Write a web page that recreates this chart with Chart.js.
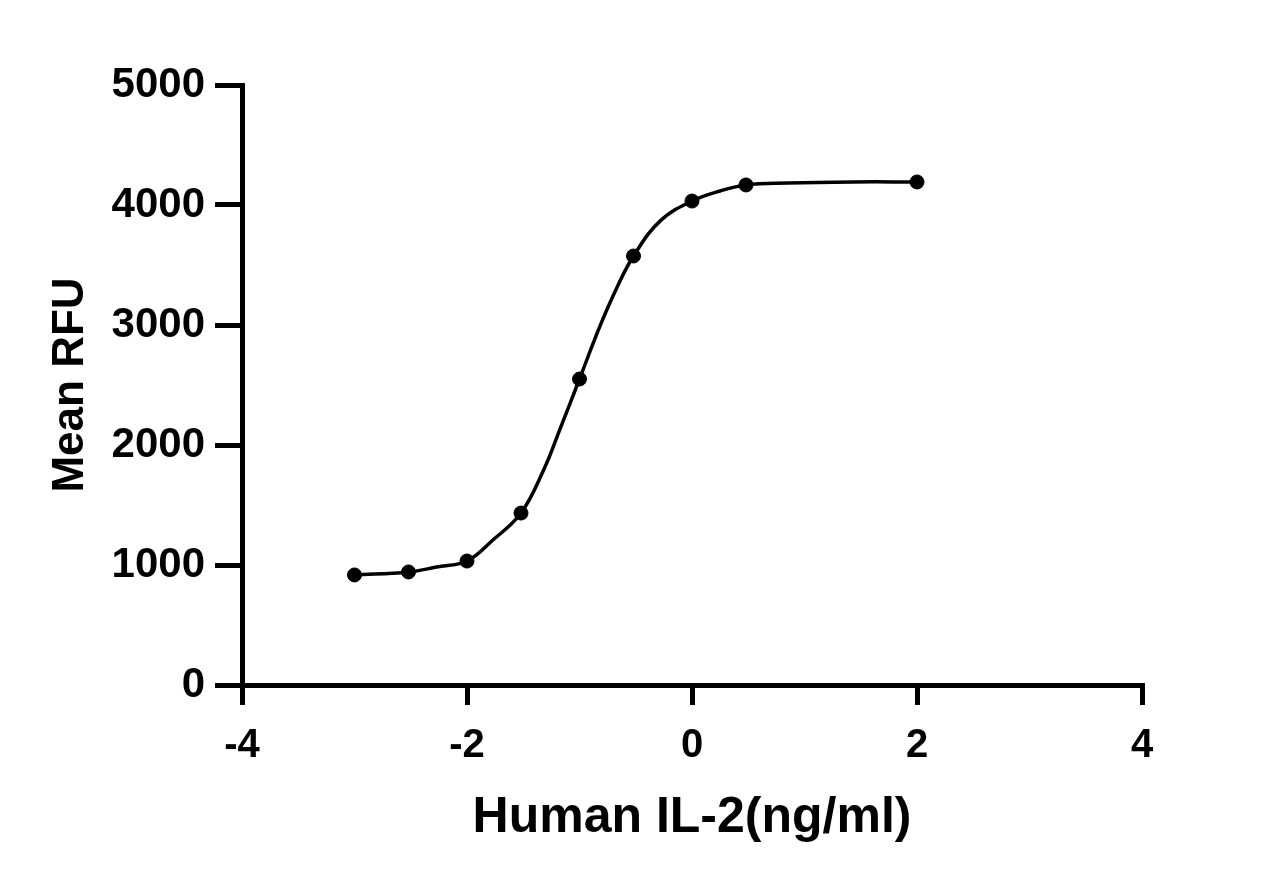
<!DOCTYPE html>
<html>
<head>
<meta charset="utf-8">
<title>Human IL-2 dose response</title>
<script src="https://cdn.jsdelivr.net/npm/chart.js@4/dist/chart.umd.min.js"></script>
<style>
  html, body { margin: 0; padding: 0; background: #fff; }
  #wrap { width: 1284px; height: 888px; }
</style>
</head>
<body>
<div id="wrap"><canvas id="il2-chart" width="1284" height="888"></canvas></div>
<script>
// measured points: log10 concentration (ng/ml) vs mean RFU
const logDose = [-3, -2.52, -2, -1.52, -1, -0.52, 0, 0.48, 2];
const meanRFU = [917, 942, 1033, 1433, 2550, 3575, 4033, 4167, 4192];

// fitted curve
const fitX = [-3, -2.52, -2.27, -2, -1.77, -1.52, -1.32, -1.17, -1, -0.82, -0.67, -0.52, -0.28, 0, 0.25, 0.48, 0.85, 1.43, 2];
const fitY = [917, 942, 983, 1033, 1208, 1433, 1790, 2140, 2550, 2986, 3306, 3575, 3870, 4033, 4117, 4167, 4183, 4192, 4192];

const xTicks = [-4, -2, 0, 2, 4];
const yTicks = [0, 1000, 2000, 3000, 4000, 5000];

const FONT = '"Liberation Sans", Arial, Helvetica, sans-serif';

function toXY(xs, ys) {
    return xs.map((x, i) => ({ x: x, y: ys[i] }));
}

//Draw Graph
window.addEventListener('DOMContentLoaded', () => {
    const ctx = document.getElementById('il2-chart').getContext('2d');
    new Chart(ctx, {
        type: 'scatter',
        data: {
            datasets: [{
                label: 'points',
                data: toXY(logDose, meanRFU),
                backgroundColor: '#000',
                borderColor: '#000',
                pointRadius: 7,
                showLine: false,
                order: 0
            }, {
                label: 'fit',
                data: toXY(fitX, fitY),
                borderColor: '#000',
                borderWidth: 3.5,
                pointRadius: 0,
                showLine: true,
                tension: 0.4,
                order: 1
            }]
        },
        options: {
            responsive: false,
            animation: false,
            layout: { padding: { left: 0, right: 142, top: 85, bottom: 0 } },
            plugins: { legend: { display: false }, tooltip: { enabled: false } },
            scales: {
                x: {
                    type: 'linear',
                    min: -4, max: 4,
                    afterFit: s => { s.height = 203; },
                    afterBuildTicks: s => { s.ticks = xTicks.map(v => ({ value: v })); },
                    border: { color: '#000', width: 5 },
                    grid: { drawOnChartArea: false, drawTicks: true, tickLength: 20, lineWidth: 5, color: '#000' },
                    ticks: {
                        color: '#000', padding: 17,
                        font: { family: FONT, size: 40, weight: 'bold' },
                        callback: v => String(v)
                    },
                    title: {
                        display: true,
                        text: 'Human IL-2(ng/ml)',
                        color: '#000',
                        font: { family: FONT, size: 50, weight: 'bold', lineHeight: 1 },
                        padding: { top: 0, bottom: 45 }
                    }
                },
                y: {
                    type: 'linear',
                    min: 0, max: 5000,
                    afterFit: s => { s.width = 242; },
                    afterBuildTicks: s => { s.ticks = yTicks.map(v => ({ value: v })); },
                    border: { color: '#000', width: 5 },
                    grid: { drawOnChartArea: false, drawTicks: true, tickLength: 27, lineWidth: 5, color: '#000' },
                    ticks: {
                        color: '#000', padding: 10,
                        font: { family: FONT, size: 42, weight: 'bold' },
                        callback: v => String(v)
                    },
                    title: {
                        display: true,
                        text: 'Mean RFU',
                        color: '#000',
                        font: { family: FONT, size: 44, weight: 'bold', lineHeight: 1 },
                        padding: { top: 49, bottom: 0 }
                    }
                }
            }
        }
    });
});
</script>
</body>
</html>
